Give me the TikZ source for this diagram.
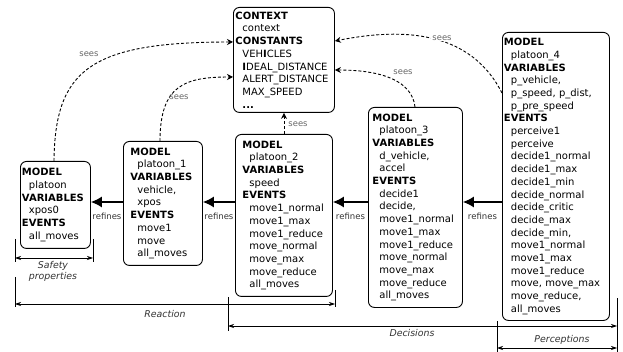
\documentclass[tikz,border=0pt]{standalone}
\usepackage{fontspec}
\setmainfont{DejaVu Sans}
\usetikzlibrary{arrows.meta}
\newcommand\myind{\hspace*{7pt}}
\begin{document}
\begin{tikzpicture}[x=1pt,y=-1pt,
  mbox/.style={draw, line width=0.9pt, rounded corners=6pt, anchor=north west, align=left, inner ysep=0pt, font=\fontsize{10}{12.7}\selectfont},
  refarrow/.style={line width=1.2pt, -{Latex[length=11pt,width=11pt]}},
  seesarrow/.style={line width=0.9pt, densely dashed, -{Stealth[length=6pt,width=6pt,inset=2pt]}},
  reflbl/.style={font=\fontsize{8.5}{10}\selectfont, text=black!80},
  seelbl/.style={font=\fontsize{8.4}{10}\selectfont, text=black!60, inner sep=1pt},
  dimarrow/.style={line width=0.7pt, {Stealth[length=6pt,width=4pt]}-{Stealth[length=6pt,width=4pt]}},
  dimtick/.style={line width=0.7pt},
  dimlbl/.style={font=\fontsize{9.4}{11}\selectfont\itshape, text=black!80, align=center}
]
\useasboundingbox (0,0) rectangle (623,352);

% boxes
\node[mbox, minimum width=70pt, minimum height=87pt, inner xsep=1.5pt, text width=67pt] (M0) at (20,161)
 {\textbf{MODEL}\\\myind platoon\\\textbf{VARIABLES}\\\myind xpos0\\\textbf{EVENTS}\\\myind all\_moves};

\node[mbox, minimum width=101pt, minimum height=105pt, inner xsep=2pt, text width=97pt] (ctx) at (233,7)
 {\textbf{CONTEXT}\\\myind context\\\textbf{CONSTANTS}\\\myind VEH\textbf{I}CLES\\\myind \textbf{I}DEAL\_DISTANCE\\\myind ALERT\_DISTANCE\\\myind MAX\_SPEED\\\myind \textbf{...}};

\node[mbox, minimum width=79pt, minimum height=124pt, inner xsep=7pt, text width=65pt] (M1) at (123,141)
 {\textbf{MODEL}\\\myind platoon\_1\\\textbf{VARIABLES}\\\myind vehicle,\\\myind xpos\\\textbf{EVENTS}\\\myind move1\\\myind move\\\myind all\_moves};

\node[mbox, minimum width=97pt, minimum height=162pt, inner xsep=7pt, text width=83pt] (M2) at (235,134)
 {\textbf{MODEL}\\\myind platoon\_2\\\textbf{VARIABLES}\\\myind speed\\\textbf{EVENTS}\\\myind move1\_normal\\\myind move1\_max\\\myind move1\_reduce\\\myind move\_normal\\\myind move\_max\\\myind move\_reduce\\\myind all\_moves};

\node[mbox, minimum width=94pt, minimum height=200pt, inner xsep=4pt, text width=86pt] (M3) at (368,107)
 {\textbf{MODEL}\\\myind platoon\_3\\\textbf{VARIABLES}\\\myind d\_vehicle,\\\myind accel\\\textbf{EVENTS}\\\myind decide1\\\myind decide,\\\myind move1\_normal\\\myind move1\_max\\\myind move1\_reduce\\\myind move\_normal\\\myind move\_max\\\myind move\_reduce\\\myind all\_moves};

\node[mbox, minimum width=107pt, minimum height=288pt, inner xsep=1.5pt, text width=104pt] (M4) at (502,32)
 {\textbf{MODEL}\\\myind platoon\_4\\\textbf{VARIABLES}\\\myind p\_vehicle,\\\myind p\_speed, p\_dist,\\\myind p\_pre\_speed\\\textbf{EVENTS}\\\myind perceive1\\\myind perceive\\\myind decide1\_normal\\\myind decide1\_max\\\myind decide1\_min\\\myind decide\_normal\\\myind decide\_critic\\\myind decide\_max\\\myind decide\_min,\\\myind move1\_normal\\\myind move1\_max\\\myind move1\_reduce\\\myind move, move\_max\\\myind move\_reduce,\\\myind all\_moves};

% refines
\draw[refarrow] (M1.west |- 0,202) -- node[reflbl, yshift=-14pt]{refines} (M0.east |- 0,202);
\draw[refarrow] (M2.west |- 0,202) -- node[reflbl, yshift=-14pt]{refines} (M1.east |- 0,202);
\draw[refarrow] (M3.west |- 0,202) -- node[reflbl, yshift=-14pt]{refines} (M2.east |- 0,202);
\draw[refarrow] (M4.west |- 0,202) -- node[reflbl, yshift=-14pt]{refines} (M3.east |- 0,202);

% sees
\draw[seesarrow] (M0.north -| 54,0) .. controls (55,70) and (90,42) .. (ctx.west |- 0,42);
\node[seelbl] (s0) at (89,54) {sees};
\draw[seesarrow] (M1.north -| 160,0) .. controls (160,85) and (185,77) .. (ctx.west |- 0,77);
\node[seelbl] (s1) at (179,97) {sees};
\draw[seesarrow] (M2.north) -- (ctx.south);
\node[seelbl] (s2) at (298,124) {sees};
\draw[seesarrow] (M3.north -| 415,0) .. controls (412,80) and (380,70) .. (ctx.east |- 0,70);
\node[seelbl] (s3) at (403,72) {sees};
\draw[seesarrow] (M4.west |- 0,93) .. controls (475,40) and (420,24) .. (ctx.east |- 0,41);
\node[seelbl, fill=white] (s4) at (442,38) {sees};

% dimension lines
\coordinate (sa1) at (15,239); \coordinate (sa2) at (15,262);
\coordinate (sb1) at (93,239); \coordinate (sb2) at (93,262);
\draw[dimtick] (sa1) -- (sa2);
\draw[dimtick] (sb1) -- (sb2);
\draw[dimarrow] (sa1 |- 0,258) -- (sb1 |- 0,258);
\node[dimlbl, font=\fontsize{9.4}{11}\selectfont\itshape] (safety) at (53,271.5) {Safety\\properties};

\coordinate (ra1) at (15,277); \coordinate (ra2) at (15,307);
\coordinate (rb1) at (335,290); \coordinate (rb2) at (335,307);
\draw[dimtick] (ra1) -- (ra2);
\draw[dimtick] (rb1) -- (rb2);
\draw[dimarrow] (ra1 |- 0,304) -- (rb1 |- 0,304);
\node[dimlbl] (reaction) at (165,313.5) {Reaction};

\coordinate (da1) at (228,297); \coordinate (da2) at (228,331);
\coordinate (db1) at (617,298); \coordinate (db2) at (617,352);
\draw[dimtick] (da1) -- (da2);
\draw[dimtick] (db1) -- (db2);
\draw[dimarrow] (da1 |- 0,326) -- (db1 |- 0,326);
\node[dimlbl] (decisions) at (412,332.5) {Decisions};

\coordinate (pa1) at (497,321); \coordinate (pa2) at (497,352);
\draw[dimtick] (pa1) -- (pa2);
\draw[dimarrow] (pa1 |- 0,348) -- (db1 |- 0,348);
\node[dimlbl] (perceptions) at (562,340) {Perceptions};
\end{tikzpicture}
\end{document}
